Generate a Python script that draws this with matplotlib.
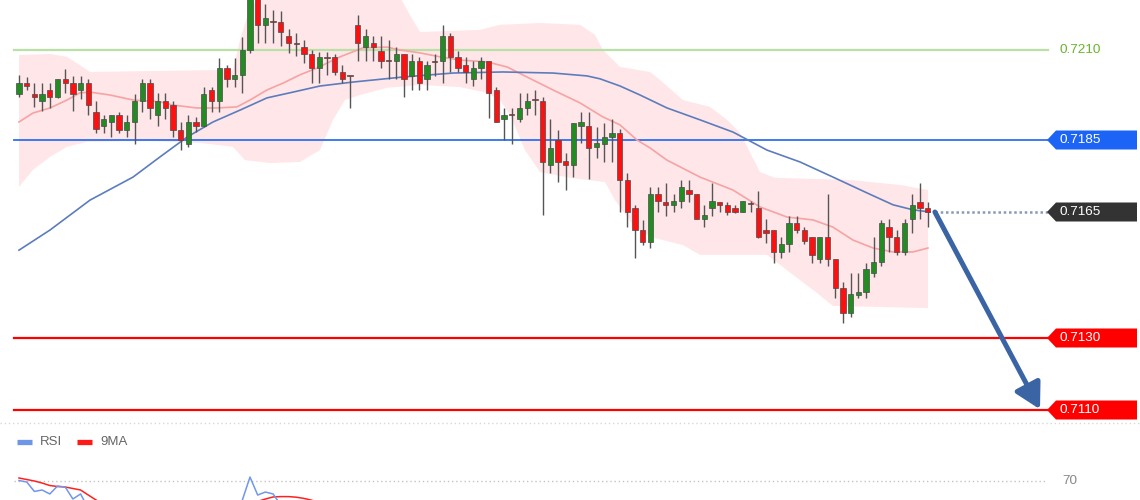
import matplotlib
matplotlib.use("Agg")
import matplotlib.pyplot as plt
from matplotlib.patches import Polygon
from matplotlib.lines import Line2D
import numpy as np

plt.rcParams['font.family'] = ['Liberation Sans', 'DejaVu Sans']

# ---------------- data ----------------
opens = [0.71978, 0.72008, 0.71978, 0.71958, 0.71989, 0.71970, 0.72020, 0.72008, 0.71989, 0.72008,
         0.71928, 0.71889, 0.71900, 0.71920, 0.71878, 0.71900, 0.71958, 0.72008, 0.71920, 0.71958,
         0.71947, 0.71878, 0.71839, 0.71900, 0.71889, 0.71989, 0.71958, 0.72050, 0.72020, 0.72031,
         0.72100, 0.72250, 0.72170, 0.72181, 0.72178, 0.72139, 0.72120, 0.72108, 0.72089, 0.72050,
         0.72081, 0.72081, 0.72039, 0.72028, 0.72170, 0.72108, 0.72120, 0.72097, 0.72070, 0.72070,
         0.72089, 0.72028, 0.72070, 0.72020, 0.72070, 0.72070, 0.72139, 0.72081, 0.72058, 0.72020,
         0.72050, 0.72070, 0.71989, 0.71908, 0.71920, 0.71908, 0.71939, 0.71961, 0.71958, 0.71781,
         0.71850, 0.71792, 0.71781, 0.71889, 0.71889, 0.71831, 0.71839, 0.71858, 0.71870, 0.71739,
         0.71661, 0.71600, 0.71567, 0.71700, 0.71678, 0.71670, 0.71681, 0.71711, 0.71700, 0.71631,
         0.71661, 0.71678, 0.71670, 0.71661, 0.71650, 0.71675, 0.71661, 0.71600, 0.71600, 0.71539,
         0.71561, 0.71620, 0.71600, 0.71581, 0.71520, 0.71581, 0.71520, 0.71439, 0.71370, 0.71420,
         0.71428, 0.71481, 0.71511, 0.71608, 0.71581, 0.71539, 0.71631, 0.71678, 0.71661]
highs = [0.72031, 0.72025, 0.72008, 0.72008, 0.72008, 0.72020, 0.72047, 0.72028, 0.72028, 0.72020,
         0.71958, 0.71920, 0.71920, 0.71928, 0.71920, 0.71978, 0.72020, 0.72020, 0.71981, 0.71981,
         0.71958, 0.71900, 0.71920, 0.71914, 0.71997, 0.71997, 0.72078, 0.72058, 0.72078, 0.72136,
         0.72267, 0.72267, 0.72228, 0.72211, 0.72208, 0.72158, 0.72147, 0.72128, 0.72100, 0.72095,
         0.72095, 0.72089, 0.72058, 0.72029, 0.72197, 0.72158, 0.72139, 0.72139, 0.72128, 0.72108,
         0.72089, 0.72089, 0.72081, 0.72070, 0.72089, 0.72170, 0.72147, 0.72097, 0.72081, 0.72070,
         0.72081, 0.72070, 0.71997, 0.71939, 0.71939, 0.71981, 0.71981, 0.71989, 0.71970, 0.71908,
         0.71878, 0.71814, 0.71897, 0.71928, 0.71928, 0.71886, 0.71897, 0.71908, 0.71881, 0.71758,
         0.71670, 0.71628, 0.71720, 0.71720, 0.71731, 0.71700, 0.71739, 0.71739, 0.71700, 0.71670,
         0.71731, 0.71678, 0.71678, 0.71670, 0.71681, 0.71681, 0.71708, 0.71631, 0.71600, 0.71581,
         0.71639, 0.71639, 0.71608, 0.71581, 0.71581, 0.71700, 0.71520, 0.71456, 0.71481, 0.71481,
         0.71508, 0.71581, 0.71628, 0.71631, 0.71600, 0.71631, 0.71700, 0.71731, 0.71678]
lows = [0.71970, 0.71989, 0.71942, 0.71931, 0.71939, 0.71967, 0.71981, 0.71931, 0.71964, 0.71920,
        0.71870, 0.71870, 0.71858, 0.71870, 0.71858, 0.71839, 0.71928, 0.71908, 0.71889, 0.71908,
        0.71858, 0.71822, 0.71831, 0.71872, 0.71886, 0.71928, 0.71928, 0.71997, 0.71997, 0.71981,
        0.72092, 0.72120, 0.72120, 0.72120, 0.72111, 0.72092, 0.72083, 0.72064, 0.72008, 0.72008,
        0.72031, 0.72031, 0.72008, 0.71939, 0.72070, 0.72070, 0.72070, 0.72050, 0.72020, 0.72020,
        0.71970, 0.71989, 0.71989, 0.71989, 0.72028, 0.72008, 0.72039, 0.72039, 0.72008, 0.72000,
        0.72020, 0.71911, 0.71900, 0.71850, 0.71839, 0.71900, 0.71920, 0.71920, 0.71642, 0.71758,
        0.71733, 0.71711, 0.71747, 0.71842, 0.71742, 0.71800, 0.71789, 0.71789, 0.71650, 0.71608,
        0.71522, 0.71558, 0.71550, 0.71650, 0.71639, 0.71650, 0.71661, 0.71678, 0.71631, 0.71608,
        0.71639, 0.71650, 0.71642, 0.71647, 0.71650, 0.71650, 0.71578, 0.71564, 0.71508, 0.71522,
        0.71539, 0.71592, 0.71561, 0.71508, 0.71508, 0.71500, 0.71411, 0.71342, 0.71358, 0.71411,
        0.71411, 0.71470, 0.71500, 0.71539, 0.71531, 0.71531, 0.71592, 0.71631, 0.71608]
closes = [0.72008, 0.72000, 0.71970, 0.71978, 0.71970, 0.72020, 0.72008, 0.71978, 0.72008, 0.71947,
          0.71881, 0.71908, 0.71920, 0.71878, 0.71900, 0.71958, 0.72008, 0.71939, 0.71958, 0.71939,
          0.71878, 0.71850, 0.71900, 0.71889, 0.71978, 0.71958, 0.72050, 0.72020, 0.72031, 0.72100,
          0.72256, 0.72170, 0.72189, 0.72178, 0.72150, 0.72120, 0.72117, 0.72089, 0.72050, 0.72081,
          0.72078, 0.72039, 0.72020, 0.72027, 0.72120, 0.72139, 0.72108, 0.72070, 0.72069, 0.72089,
          0.72020, 0.72070, 0.72008, 0.72058, 0.72067, 0.72139, 0.72081, 0.72050, 0.72039, 0.72050,
          0.72070, 0.71981, 0.71900, 0.71920, 0.71919, 0.71939, 0.71958, 0.71960, 0.71789, 0.71828,
          0.71789, 0.71781, 0.71897, 0.71900, 0.71828, 0.71842, 0.71858, 0.71870, 0.71739, 0.71650,
          0.71600, 0.71567, 0.71700, 0.71681, 0.71670, 0.71681, 0.71720, 0.71700, 0.71631, 0.71642,
          0.71681, 0.71670, 0.71650, 0.71650, 0.71681, 0.71672, 0.71581, 0.71592, 0.71539, 0.71561,
          0.71620, 0.71600, 0.71570, 0.71531, 0.71581, 0.71520, 0.71439, 0.71370, 0.71422, 0.71428,
          0.71492, 0.71511, 0.71620, 0.71581, 0.71539, 0.71620, 0.71670, 0.71661, 0.71650]

# moving averages (bar position, price)
ma_fast_x = [0, 1.82, 4.03, 6.23, 7.92, 9.22, 11.82, 14.81, 18.31, 20.0, 23.12, 25.71, 28.31, 30.0,
             32.21, 34.29, 36.49, 38.70, 41.69, 44.68, 47.79, 49.48, 52.08, 54.68, 57.27, 60.78,
             63.38, 65.97, 69.35, 72.86, 75.84, 78.05, 80.26, 81.95, 84.16, 88.44, 92.73, 96.23,
             99.74, 103.12, 105.71, 108.31, 110.91, 113.51, 116.10, 118.05]
ma_fast = [0.71900, 0.71925, 0.71939, 0.71961, 0.71981, 0.71983, 0.71975, 0.71961, 0.71956, 0.71947,
           0.71939, 0.71939, 0.71942, 0.71961, 0.71989, 0.72008, 0.72031, 0.72050, 0.72081, 0.72106,
           0.72108, 0.72100, 0.72092, 0.72081, 0.72072, 0.72067, 0.72053, 0.72025, 0.71989, 0.71953,
           0.71914, 0.71892, 0.71850, 0.71828, 0.71794, 0.71747, 0.71711, 0.71664, 0.71636, 0.71628,
           0.71608, 0.71572, 0.71550, 0.71539, 0.71539, 0.71550]
ma_slow_x = [0, 4.03, 9.22, 14.81, 18.31, 21.82, 25.19, 28.70, 32.21, 35.58, 39.09, 43.38, 49.87,
             56.36, 62.86, 69.35, 73.77, 75.45, 78.05, 80.65, 84.16, 88.44, 92.73, 97.14, 101.43,
             105.71, 110.13, 113.51, 116.10, 118.31]
ma_slow = [0.71544, 0.71600, 0.71683, 0.71747, 0.71803, 0.71858, 0.71900, 0.71933, 0.71967, 0.71983,
           0.72000, 0.72011, 0.72025, 0.72036, 0.72039, 0.72036, 0.72028, 0.72020, 0.72000, 0.71975,
           0.71939, 0.71906, 0.71872, 0.71822, 0.71789, 0.71747, 0.71703, 0.71670, 0.71656, 0.71650]

band_up_x = [0, 4.03, 6.23, 7.92, 9.22, 27.79, 28.70, 30.0, 31.30, 49.48, 50.78, 52.08, 59.87, 62.47,
             67.66, 72.86, 74.81, 75.84, 78.05, 81.95, 83.25, 86.23, 89.74, 91.95, 93.64, 96.23,
             98.18, 107.92, 114.42, 118.05]
band_up = [0.72086, 0.72089, 0.72081, 0.72058, 0.72039, 0.72045, 0.72128, 0.72217, 0.72247, 0.72247,
           0.72197, 0.72150, 0.72156, 0.72170, 0.72175, 0.72170, 0.72142, 0.72100, 0.72053, 0.72039,
           0.72017, 0.71961, 0.71942, 0.71906, 0.71870, 0.71761, 0.71745, 0.71739, 0.71725, 0.71711]
band_lo_x = [0, 1.82, 4.03, 6.23, 8.83, 17.01, 23.51, 27.79, 29.35, 32.60, 36.49, 39.09, 40.78, 42.34,
             44.29, 47.79, 52.08, 57.27, 60.78, 62.47, 63.77, 65.71, 67.66, 71.56, 76.10, 77.40,
             79.74, 81.95, 86.23, 88.44, 97.14, 99.22, 101.43, 103.64, 105.71, 118.05]
band_lo = [0.71720, 0.71767, 0.71803, 0.71831, 0.71845, 0.71847, 0.71842, 0.71831, 0.71794, 0.71786,
           0.71789, 0.71822, 0.71906, 0.71961, 0.71975, 0.71995, 0.72003, 0.71997, 0.71981, 0.71961,
           0.71920, 0.71822, 0.71761, 0.71745, 0.71733, 0.71683, 0.71614, 0.71581, 0.71558, 0.71531,
           0.71531, 0.71497, 0.71461, 0.71425, 0.71389, 0.71383]

# RSI panel
rsi = [70.4, 69.2, 61.3, 62.5, 59.2, 65.8, 65.0, 55.0, 59.2,
       47, 37, 40, 41, 37, 42, 49, 45, 40, 44, 39, 36, 42, 40, 50, 46, 52, 49, 51, 48,
       54, 73.3, 58.3, 60.8, 59.2, 50, 45, 43, 43, 40,
       38, 44, 43, 39, 37, 37, 50, 52, 50, 46,
       46, 48, 42, 47, 41, 46, 47, 53, 47, 44,
       43, 45, 47, 38, 32, 34, 34, 37, 39, 39,
       27, 32, 29, 29, 42, 42, 35, 37, 39, 40,
       30, 25, 22, 21, 36, 34, 34, 35, 39, 37,
       31, 33, 37, 36, 34, 34, 38, 37, 29, 31,
       27, 30, 36, 34, 32, 29, 35, 30, 24, 20,
       28, 29, 37, 39, 50, 46, 42, 50, 53, 52]
rsi_ma9 = [72.5, 71.25, 70, 68.3, 66.25, 65.4, 65, 63.75, 62.5, 58.3, 54.2, 50,
           47, 45, 44, 43, 42, 42, 42, 42, 43, 43, 43, 44, 45, 46, 47, 48, 49, 50, 52,
           53, 55, 56.7, 57, 57, 56.5, 55.5, 54, 52,
           50, 48, 46, 45, 44, 44, 44, 45, 45, 45,
           46, 46, 46, 46, 46, 46, 46, 47, 47, 46,
           45, 45, 44, 43, 42, 41, 40, 39, 38, 36,
           35, 34, 34, 35, 35, 35, 35, 36, 37, 36,
           34, 32, 30, 30, 30, 30, 30, 31, 32, 34,
           35, 35, 35, 35, 35, 35, 35, 35, 34, 33,
           33, 33, 33, 32, 32, 31, 31, 30, 28, 27,
           27, 28, 29, 31, 33, 35, 37, 39, 42]
rsi_level = 70

level_top = 0.7225
level_res = 0.7210
level_pivot = 0.7185
level_sup1 = 0.7130
level_sup2 = 0.7110

# ---------------- layout helpers ----------------
W, H = 1140, 500
X0, DX = 19.0, 7.7          # pixel position of first bar, pixels per bar
PX_PER_PRICE = 36000.0
Y_TOP_PRICE = 0.7210 + 50 / PX_PER_PRICE
SEP_Y = 423


def px(xpix):
    return (xpix - X0) / DX


fig = plt.figure(figsize=(W / 100, H / 100), dpi=100)
fig.patch.set_facecolor('white')

ax = fig.add_axes([0, (H - SEP_Y) / H, 1, SEP_Y / H])
ax.set_xlim(px(0), px(W))
ax.set_ylim(Y_TOP_PRICE - SEP_Y / PX_PER_PRICE, Y_TOP_PRICE)
ax.axis('off')

n = len(closes)
idx = np.arange(n)

# band
ax.fill(np.r_[band_up_x, band_lo_x[::-1]], np.r_[band_up, band_lo[::-1]],
        color='#ffe6e9', lw=0, zorder=1)
ax.plot(ma_fast_x, ma_fast, color='#f5a3a3', lw=1.2, zorder=2)
ax.plot(ma_slow_x, ma_slow, color='#5c7dbd', lw=1.2, zorder=2)

# horizontal levels
xl0, xl1 = px(14), px(1048)
ax.plot([xl0, xl1], [level_res] * 2, color='#b9e0a5', lw=1.6, zorder=1.5)
ax.plot([xl0, xl1], [level_pivot] * 2, color='#2e6ff0', lw=1.3, zorder=1.5)
ax.plot([xl0, xl1], [level_sup1] * 2, color='#ff0000', lw=1.6, zorder=1.5)
ax.plot([xl0, xl1], [level_sup2] * 2, color='#ff0000', lw=1.6, zorder=1.5)

# candles
up = np.array(closes) >= np.array(opens)
ax.vlines(idx, lows, highs, color='#555555', lw=1.0, zorder=3)
body_bottom = np.minimum(opens, closes)
body_h = np.maximum(np.abs(np.array(closes) - np.array(opens)), 0.00003)
colors = np.where(up, '#228b22', '#ff1010')
ax.bar(idx, body_h, bottom=body_bottom, width=0.68, color=colors,
       edgecolor='#4a4a4a', linewidth=0.5, zorder=4)

# current price dotted line
ax.plot([n - 1 + 0.95, xl1], [closes[-1]] * 2, color='#8a99b3',
        ls=(0, (1, 1.1)), lw=1.8, zorder=2)

# arrow
ax.annotate('', xy=(px(1040), level_sup2 + 0.00002), xytext=(n - 1 + 0.95, closes[-1]),
            arrowprops=dict(arrowstyle='-|>,head_length=0.9,head_width=0.5', lw=3.6,
                            color='#3a64a3', shrinkA=0, shrinkB=0, mutation_scale=17),
            zorder=6)

# tags
hh = 9.5 / PX_PER_PRICE


def tag(price, fc, text):
    poly = Polygon([(px(1047), price), (px(1056), price + hh), (px(1137), price + hh),
                    (px(1137), price - hh), (px(1056), price - hh)],
                   closed=True, fc=fc, ec='none', zorder=7)
    ax.add_patch(poly)
    ax.text(px(1060), price, text, color='white', fontsize=9.7, va='center',
            ha='left', zorder=8)


tag(level_pivot, '#1c64f5', f'{level_pivot:.4f}')
tag(closes[-1], '#333333', f'{level_pivot - 0.0020:.4f}')
tag(level_sup1, '#ff0000', f'{level_sup1:.4f}')
tag(level_sup2, '#ff0000', f'{level_sup2:.4f}')
ax.text(px(1060), level_res, f'{level_res:.4f}', color='#6ab42e', fontsize=9.7,
        va='center', ha='left')
ax.text(px(1060), level_top, f'{level_top:.4f}', color='#6ab42e', fontsize=9.7,
        va='center', ha='left', clip_on=False)

# separator
fig.add_artist(Line2D([0, 1], [(H - SEP_Y) / H] * 2, transform=fig.transFigure,
                      color='#d8d8d8', lw=1, ls=(0, (1, 2))))

# ---------------- RSI panel ----------------
ax2 = fig.add_axes([0, -0.2, 1, 0.34])
ax2.set_xlim(px(0), px(W))
ax2.set_ylim(-29.17, 112.5)
ax2.axis('off')
ax2.plot([px(14), px(1045)], [rsi_level] * 2, color='#c4c4c4', lw=1, ls=(0, (1, 2)))
ax2.text(px(1062), rsi_level, str(rsi_level), color='#888888', fontsize=9.7,
         va='center', ha='left')
ax2.plot(idx, rsi_ma9, color='#ff2020', lw=1.1)
ax2.plot(idx, rsi, color='#7097ea', lw=1.1)

ly = (600 - 442) / 170
ax2.plot([17 / W, 32 / W], [ly, ly], transform=ax2.transAxes, color='#6f95e8', lw=3.8,
         solid_capstyle='butt')
ax2.text(40 / W, ly, 'RSI', transform=ax2.transAxes, color='#666666', fontsize=9.5,
         va='center', ha='left')
ax2.plot([77 / W, 92 / W], [ly, ly], transform=ax2.transAxes, color='#ff1a1a', lw=3.8,
         solid_capstyle='butt')
ax2.text(100 / W, ly, '9MA', transform=ax2.transAxes, color='#666666', fontsize=9.5,
         va='center', ha='left')

fig.savefig('out.png', dpi=100, facecolor='white')
